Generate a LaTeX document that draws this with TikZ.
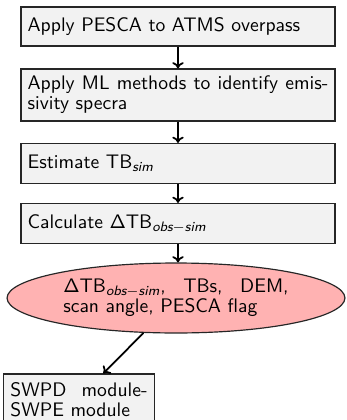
\documentclass[tikz,border=0pt]{standalone}
\usepackage{amsmath}
\usetikzlibrary{calc,shapes.geometric,arrows.meta}
\begin{document}
\begin{tikzpicture}[x=0.5102pt,y=-0.5102pt]
\tikzset{
  txt/.style={font=\sffamily\fontsize{10}{10.2}\selectfont},
  stepbox/.style={txt, draw=black!85, fill=black!5, line width=0.6pt,
    text width=153.4pt, align=justify, inner sep=3.4pt, minimum width=160.2pt},
  databox/.style={txt, ellipse, draw=black!85, fill=red!30, line width=0.6pt,
    text width=115pt, align=justify, inner sep=0pt,
    minimum width=172.4pt, minimum height=35.7pt},
  flow/.style={-{To[length=3.2pt,width=5.8pt]}, line width=0.9pt},
}
\useasboundingbox (0,0) rectangle (346,420);

\node[stepbox, minimum height=19.9pt] (b1) at (178,26.5)
  {Apply PESCA to ATMS overpass};
\node[stepbox, minimum height=26.5pt] (b2) at (178,95)
  {Apply ML methods to identify emis-\linebreak sivity specra};
\node[stepbox, minimum height=20.4pt] (b3) at (178,163.5)
  {Estimate TB\textsubscript{\itshape sim}};
\node[stepbox, minimum height=20.4pt] (b4) at (178,223.5)
  {Calculate ΔTB\textsubscript{\itshape obs$-$sim}};
\node[databox] (ell) at (176,298)
  {ΔTB\textsubscript{\itshape obs$-$sim}, TBs, DEM,\linebreak scan angle, PESCA flag};
\node[stepbox, text width=70pt, minimum width=76.8pt, minimum height=26.5pt] (b5) at (79,400)
  {SWPD module-\linebreak SWPE module};

\draw[flow] (b1) -- (b2);
\draw[flow] (b2) -- (b3);
\draw[flow] (b3) -- (b4);
\draw[flow] (b4.south) -- (b4.south |- ell.north);
\draw[flow] (ell.227) -- ($(b5.north)!0.32!(b5.north east)$);
\end{tikzpicture}
\end{document}
